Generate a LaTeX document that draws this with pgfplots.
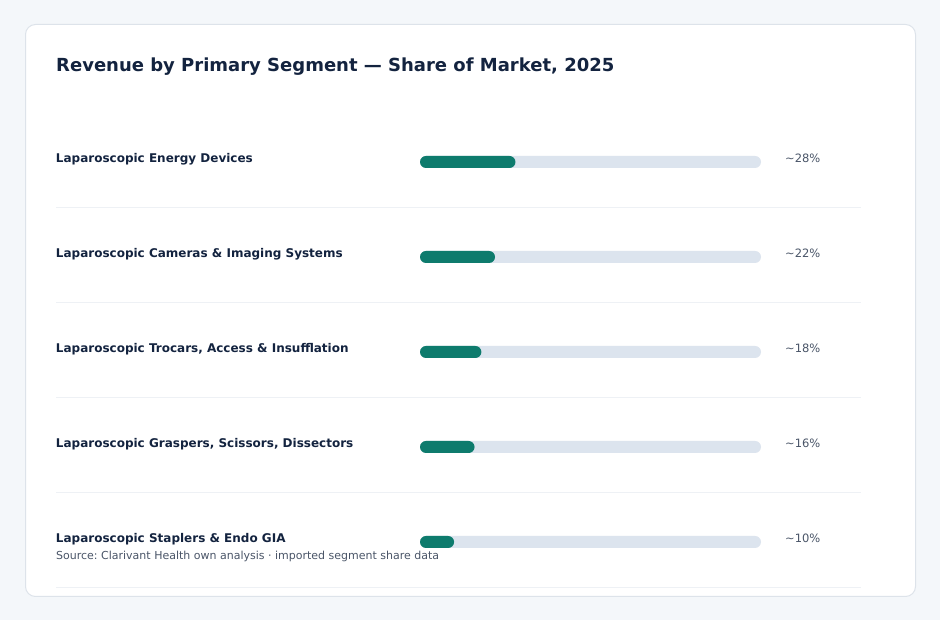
\documentclass[border=0pt]{standalone}
\usepackage{fontspec}
\setmainfont{DejaVu Sans}
\usepackage{pgfplots}
\usepackage{pgfplotstable}
\pgfplotsset{compat=1.18}
\frenchspacing
\definecolor{bgpage}{HTML}{F4F7FA}
\definecolor{cardborder}{HTML}{DDE3EA}
\definecolor{navy}{HTML}{13233F}
\definecolor{barteal}{HTML}{0E7B6D}
\definecolor{track}{HTML}{DCE4EE}
\definecolor{sepline}{HTML}{EEF1F5}
\definecolor{muted}{HTML}{4A5568}

\pgfplotstableread{
pos share track
4 28 100
3 22 100
2 18 100
1 16 100
0 10 100
}\segdata

\begin{document}
\begin{tikzpicture}[x=1pt,y=1pt]
\fill[bgpage] (0,0) rectangle (940,620);
\filldraw[fill=white, draw=cardborder, line width=1pt, rounded corners=10pt] (25.5,23.5) rectangle (915.5,595.5);
\node[anchor=base west, inner sep=0pt, text=navy, font=\fontsize{18}{22}\selectfont\bfseries] at (56,548.5) {Revenue by Primary Segment — Share of Market, 2025};
\foreach \yy in {208,303,398,493,588} \draw[sepline, line width=1pt] (56,{620-\yy}) -- (861,{620-\yy});
\begin{axis}[
  at={(420pt,30.5pt)}, anchor=south west,
  scale only axis, width=341pt, height=475pt,
  xmin=0, xmax=100, ymin=-0.5, ymax=4.5,
  axis line style={draw=none}, tick style={draw=none},
  xtick=\empty, ytick={0,1,2,3,4},
  /pgf/number format/assume math mode=true,
  /pgf/number format/int detect,
  yticklabels={Laparoscopic Staplers \& Endo GIA, {Laparoscopic Graspers, Scissors, Dissectors}, {Laparoscopic Trocars, Access \& Insufflation}, Laparoscopic Cameras \& Imaging Systems, Laparoscopic Energy Devices},
  yticklabel style={anchor=base west, inner sep=0pt, xshift=-360pt, yshift=-0.5pt, text=navy, font=\fontsize{12}{14}\selectfont\bfseries},
  clip=false, xbar, bar width=12pt, bar shift=0pt,
]
\addplot[fill=track, draw=none, rounded corners=6pt,
  point meta=explicit,
  nodes near coords={\textasciitilde\pgfmathprintnumber[assume math mode=true]{\pgfplotspointmeta}\%},
  nodes near coords style={anchor=base west, inner sep=0pt, xshift=24pt, yshift=-0.5pt, text=muted, font=\fontsize{11.5}{14}\selectfont}]
  table[x=track, y=pos, meta=share] {\segdata};
\addplot[fill=barteal, draw=none, rounded corners=6pt] table[x=share, y=pos] {\segdata};
\end{axis}
\node[anchor=base west, inner sep=0pt, text=muted, font=\fontsize{11}{13}\selectfont] at (56,60.5) {Source: Clarivant Health own analysis · imported segment share data};
\pgfresetboundingbox
\path (0,0) rectangle (940,620);
\end{tikzpicture}
\end{document}
